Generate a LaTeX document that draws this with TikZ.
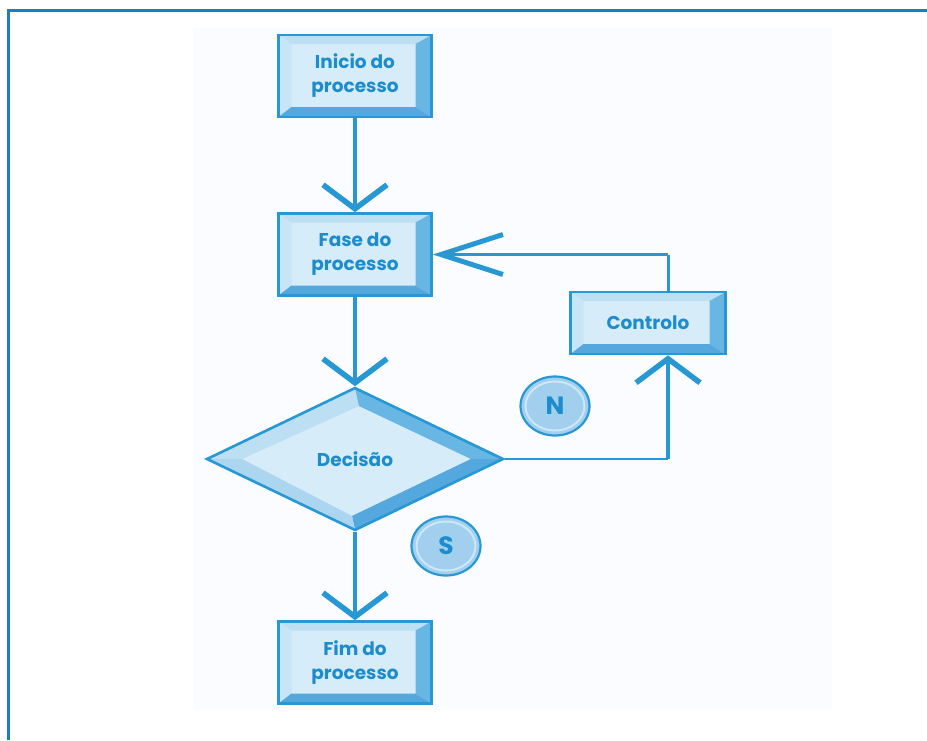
\documentclass[tikz,border=0pt]{standalone}
\usepackage{fontspec}
\setmainfont{Poppins}
\usetikzlibrary{shapes.geometric,arrows.meta,calc}

\definecolor{frameblue}{RGB}{22,128,192}
\definecolor{edgeblue}{RGB}{40,152,212}
\definecolor{textblue}{RGB}{28,140,204}
\definecolor{face}{RGB}{214,236,249}
\definecolor{bevtop}{RGB}{188,223,244}
\definecolor{bevleft}{RGB}{198,229,246}
\definecolor{bevright}{RGB}{104,182,228}
\definecolor{bevbottom}{RGB}{84,168,221}
\definecolor{bevlowleft}{RGB}{172,213,240}
\definecolor{pagetint}{RGB}{251,252,255}
\definecolor{discfill}{RGB}{162,207,237}
\definecolor{discring}{RGB}{204,232,248}

\tikzset{
  boxfont/.style={font=\bfseries\fontsize{18.5}{24}\selectfont, text=textblue},
  procbox/.style={rectangle, draw=edgeblue, line width=2.6pt, fill=face,
    minimum width=153pt, minimum height=82pt, inner sep=0pt, align=center, boxfont,
    path picture={
      \coordinate (bnw) at (path picture bounding box.north west);
      \coordinate (bne) at (path picture bounding box.north east);
      \coordinate (bsw) at (path picture bounding box.south west);
      \coordinate (bse) at (path picture bounding box.south east);
      \coordinate (inw) at ([shift={(13,9)}]bnw);
      \coordinate (ine) at ([shift={(-16,9)}]bne);
      \coordinate (isw) at ([shift={(13,-10)}]bsw);
      \coordinate (ise) at ([shift={(-16,-10)}]bse);
      \fill[bevtop] (bnw) -- (bne) -- (ine) -- (inw) -- cycle;
      \fill[bevleft] (bnw) -- (inw) -- (isw) -- (bsw) -- cycle;
      \fill[bevright] (bne) -- (ine) -- (ise) -- (bse) -- cycle;
      \fill[bevbottom] (bsw) -- (isw) -- (ise) -- (bse) -- cycle;
    }},
  decbox/.style={diamond, draw=edgeblue, line width=2.6pt, fill=face,
    minimum width=297pt, minimum height=143pt, inner sep=0pt, boxfont,
    path picture={
      \coordinate (dw) at (path picture bounding box.west);
      \coordinate (dn) at (path picture bounding box.north);
      \coordinate (de) at (path picture bounding box.east);
      \coordinate (ds) at (path picture bounding box.south);
      \coordinate (iw) at ([shift={(35,0)}]dw);
      \coordinate (in) at ([shift={(4,18)}]dn);
      \coordinate (ie) at ([shift={(-32,0)}]de);
      \coordinate (is) at ([shift={(-3,-14)}]ds);
      \fill[bevtop] (dw) -- (dn) -- (in) -- (iw) -- cycle;
      \fill[bevright] (dn) -- (de) -- (ie) -- (in) -- cycle;
      \fill[bevbottom] (de) -- (ds) -- (is) -- (ie) -- cycle;
      \fill[bevlowleft] (ds) -- (dw) -- (iw) -- (is) -- cycle;
    }},
  disc/.style={ellipse, draw=edgeblue, line width=2.2pt, fill=discfill,
    minimum width=69pt, minimum height=59pt, inner sep=0pt,
    font=\bfseries\fontsize{25}{28}\selectfont, text=textblue,
    path picture={
      \draw[discring, line width=2pt] (path picture bounding box.center)
        ellipse [x radius=29.5pt, y radius=24.5pt];
    }},
  chev/.tip={Straight Barb[length=24pt, width=64pt, line width=5.5pt]},
  widechev/.tip={Straight Barb[length=62pt, width=40pt, line width=5pt]},
  mainflow/.style={draw=edgeblue, line width=4.5pt, -chev},
  loopthin/.style={draw=edgeblue, line width=2.6pt},
  loopthick/.style={draw=edgeblue, line width=4pt},
}

\begin{document}
\begin{tikzpicture}[x=1pt, y=-1pt]
  \useasboundingbox (0,0) rectangle (927,740);

  % page frame and faint panel
  \fill[pagetint] (193,28) rectangle (832,710);
  \draw[frameblue, line width=3pt] (8.5,740) -- (8.5,10.5) -- (927,10.5);

  % flowchart blocks
  \node[procbox] (ini) at (355,76) {Inicio do\\processo};
  \node[procbox] (fase) at (355,254.5) {Fase do\\processo};
  \node[decbox] (dec) at (355,459) {Decisão};
  \node[procbox] (fim) at (355,662.5) {Fim do\\processo};
  \node[procbox, minimum width=155pt, minimum height=62pt] (ctl) at (648,323) {Controlo};

  % answer markers
  \node[disc] (nlab) at (555,406) {N};
  \node[disc] (slab) at (446,546) {S};

  % main flow
  \draw[mainflow] (ini.south) -- (fase.north);
  \draw[mainflow] (fase.south) -- (dec.north);
  \draw[mainflow] (dec.south) -- (fim.north);

  % feedback loop through Controlo
  \coordinate (ctlin) at ([xshift=20pt]ctl.south);
  \coordinate (ctlout) at ([xshift=20pt]ctl.north);
  \coordinate (loopcorner) at (dec.east -| ctlin);
  \coordinate (topcorner) at (fase.east -| ctlout);
  \draw[loopthin] (dec.east) -- (loopcorner);
  \draw[loopthick, -chev] (loopcorner) -- (ctlin);
  \draw[loopthin, line width=3pt] (ctlout) -- (topcorner);
  \draw[loopthin, line width=3pt, -widechev] (topcorner) -- (fase.east);
\end{tikzpicture}
\end{document}
